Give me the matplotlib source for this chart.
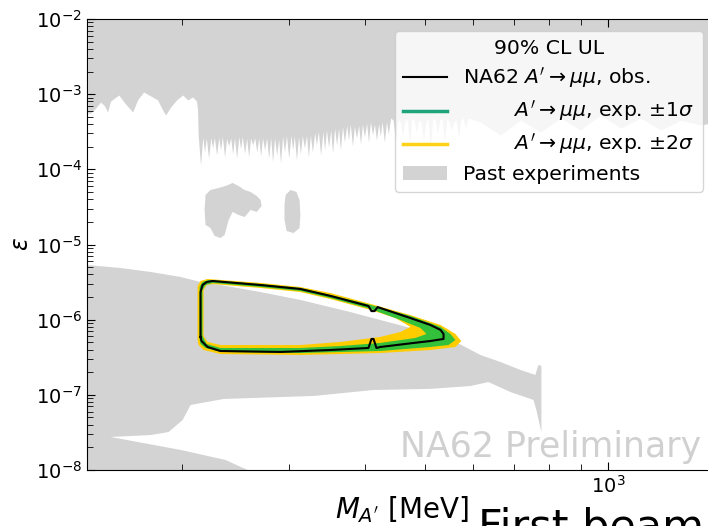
import numpy as np
import matplotlib
matplotlib.use("Agg")
import matplotlib.pyplot as plt
from matplotlib.lines import Line2D
from matplotlib.patches import Patch, PathPatch
from matplotlib.path import Path
from matplotlib.ticker import NullFormatter

# ---- past experiments, upper band: wavy edge at low mass (filled up to 1e-2)
wave_m = [140.4, 142.0, 144.6, 147.4, 149.6, 151.3, 153.0, 155.4, 157.8, 161.4,
          166.3, 169.4, 173.3, 178.0, 182.7, 186.2, 188.3, 191.9, 196.3, 200.8,
          204.6, 208.5, 211.6, 212.4]
wave_eps = [5.6e-4, 5.6e-4, 6.54e-4, 7.87e-4, 6.97e-4, 5.8e-4, 8.1e-4, 8.9e-4, 9.75e-4, 7.63e-4,
            5.8e-4, 8.4e-4, 1.07e-3, 9.46e-4, 8.4e-4, 6.15e-4, 5.28e-4, 6.75e-4, 8.4e-4, 9.75e-4,
            8.4e-4, 9.17e-4, 8.1e-4, 6.15e-4]
# needle-like edge above ~213 MeV: tip position, tip depth, level between needles
needle_m = [214.8, 218.1, 221.4, 224.8, 228.2, 231.6, 235.2, 238.8, 242.4, 246.1,
            249.8, 253.6, 257.5, 261.4, 265.5, 269.4, 273.5, 277.7, 281.9, 286.2,
            290.4, 294.8, 299.5, 304.0, 308.4, 313.0, 317.8, 322.6, 327.5, 332.5,
            337.8, 342.9, 348.1, 353.4, 358.8, 364.0, 369.6, 375.2, 380.9, 386.7,
            392.6, 398.5, 404.6, 410.9, 417.0, 423.0, 429.5, 436.0, 447.9, 460.0,
            472.2, 484.8, 497.8, 511.0, 524.8, 538.8, 553.2, 568.0, 583.2]
needle_tip = [1.14e-4, 1.70e-4, 1.41e-4, 1.93e-4, 1.55e-4, 1.81e-4, 1.46e-4, 2.05e-4, 1.60e-4, 1.41e-4,
              1.87e-4, 1.64e-4, 1.46e-4, 2.11e-4, 1.70e-4, 1.50e-4, 1.81e-4, 1.41e-4, 1.25e-4, 1.55e-4,
              1.22e-4, 1.70e-4, 1.41e-4, 1.81e-4, 1.33e-4, 1.60e-4, 1.93e-4, 1.46e-4, 1.70e-4, 2.11e-4,
              1.55e-4, 1.81e-4, 1.99e-4, 1.64e-4, 2.11e-4, 1.81e-4, 2.31e-4, 2.45e-4, 2.05e-4, 2.62e-4,
              2.17e-4, 2.70e-4, 2.31e-4, 2.86e-4, 2.45e-4, 2.78e-4, 2.31e-4, 2.96e-4, 2.45e-4, 2.86e-4,
              2.11e-4, 3.14e-4, 2.45e-4, 1.93e-4, 3.05e-4, 2.31e-4, 3.34e-4, 2.62e-4, 3.55e-4]
needle_base = [2.86e-4, 3.05e-4, 2.70e-4, 2.96e-4, 2.78e-4, 3.05e-4, 2.86e-4, 2.70e-4, 2.96e-4, 2.86e-4,
               3.14e-4, 2.78e-4, 2.96e-4, 2.70e-4, 2.86e-4, 3.05e-4, 2.78e-4, 2.96e-4, 3.14e-4, 2.86e-4,
               3.05e-4, 3.14e-4, 2.96e-4, 3.34e-4, 3.05e-4, 3.14e-4, 2.96e-4, 3.34e-4, 3.14e-4, 3.55e-4,
               3.34e-4, 3.89e-4, 3.55e-4, 4.01e-4, 3.89e-4, 4.26e-4, 4.01e-4, 4.53e-4, 4.26e-4, 4.01e-4,
               4.53e-4, 4.26e-4, 4.82e-4, 4.53e-4, 4.26e-4, 4.82e-4, 4.53e-4, 4.82e-4, 4.53e-4, 4.26e-4,
               4.82e-4, 4.53e-4, 4.26e-4, 4.82e-4, 4.53e-4, 4.82e-4, 4.26e-4, 4.53e-4, 4.82e-4]
# smoother edge further right (mostly behind the legend)
right_m = [617.0, 665.0, 718.0, 774.0, 835.0, 900.0, 971.0, 1047.0, 1129.0, 1218.0,
           1313.0, 1414.0, 1500.0]
right_eps = [4.26e-4, 2.86e-4, 4.53e-4, 3.14e-4, 4.8e-4, 3.34e-4, 5.28e-4, 3.55e-4, 4.8e-4, 3.34e-4,
             4.5e-4, 3.9e-4, 4.2e-4]

# ---- two small islands around 1e-5 .. 1e-4
blob1_m = [218.9, 223.0, 229.9, 236.0, 242.4, 248.0, 253.6, 259.4, 265.5, 269.4,
           270.4, 265.5, 259.4, 253.6, 248.0, 242.4, 238.8, 235.2, 231.6, 226.5,
           223.0, 218.9, 218.1]
blob1_eps = [4.56e-5, 5.31e-5, 5.65e-5, 6.0e-5, 6.58e-5, 6.0e-5, 5.31e-5, 5.0e-5, 4.42e-5, 3.91e-5,
             3.25e-5, 2.71e-5, 2.88e-5, 2.32e-5, 2.47e-5, 2.71e-5, 2.12e-5, 1.34e-5, 1.22e-5, 1.3e-5,
             1.66e-5, 1.82e-5, 2.88e-5]
blob2_m = [296.0, 301.7, 308.4, 312.0, 313.0, 312.0, 305.0, 297.2, 294.8, 294.8]
blob2_eps = [4.56e-5, 5.31e-5, 5.0e-5, 3.91e-5, 2.47e-5, 1.66e-5, 1.42e-5, 1.51e-5, 2.12e-5, 3.36e-5]

# ---- lower excluded region (beam dumps)
low_m = [140.4, 159.0, 178.0, 199.2, 214.8, 231.6, 269.4, 313.0, 378.2, 474.0,
         511.0, 566.0, 617.0, 665.0, 718.0, 759.0, 768.0, 776.6, 776.6, 762.0,
         753.8, 691.0, 636.0, 594.0, 511.0, 412.4, 328.9, 234.3, 206.9, 200.8,
         190.4, 178.0, 153.0, 199.2, 236.0, 256.4, 140.4]
low_eps = [5.33e-6, 4.86e-6, 4.31e-6, 3.7e-6, 3.17e-6, 2.89e-6, 2.33e-6, 1.83e-6, 1.26e-6, 7.75e-7,
           6.25e-7, 4.9e-7, 3.39e-7, 2.74e-7, 2.14e-7, 1.84e-7, 2.5e-7, 2.42e-7, 3.2e-8, 6.3e-8,
           8.55e-8, 1.09e-7, 1.48e-7, 1.31e-7, 1.2e-7, 1.16e-7, 9.66e-8, 8.81e-8, 7.33e-8, 4.63e-8,
           3.2e-8, 2.92e-8, 2.75e-8, 1.85e-8, 1.36e-8, 1.0e-8, 1.0e-8]

# ---- NA62 observed limit contour
obs_m = [214.8, 214.8, 216.4, 219.8, 224.8, 269.4, 313.0, 350.6, 404.6, 409.2,
         414.0, 418.8, 474.0, 511.0, 531.0, 537.0, 537.0, 511.0, 479.6, 423.0,
         417.0, 412.4, 409.2, 404.6, 350.6, 290.4, 231.6, 220.6, 215.6, 214.8]
obs_eps = [5.89e-7, 2.33e-6, 2.89e-6, 3.17e-6, 3.27e-6, 2.89e-6, 2.56e-6, 2.07e-6, 1.52e-6, 1.30e-6,
           1.30e-6, 1.47e-6, 1.05e-6, 8.5e-7, 7.3e-7, 6.45e-7, 5.54e-7, 5.2e-7, 4.9e-7, 4.33e-7,
           4.2e-7, 5.54e-7, 5.54e-7, 4.2e-7, 3.95e-7, 3.72e-7, 3.83e-7, 4.33e-7, 5.2e-7, 5.89e-7]

# ---- expected bands (outer / inner edges)
y2_out_m = [212.4, 212.4, 214.8, 220.6, 269.4, 313.0, 350.6, 407.8, 474.0, 531.0,
            561.6, 574.0, 561.6, 511.0, 423.0, 313.0, 231.6, 217.3, 213.2]
y2_out_eps = [5.37e-7, 2.8e-6, 3.27e-6, 3.48e-6, 3.08e-6, 2.72e-6, 2.26e-6, 1.62e-6, 1.15e-6, 8.5e-7,
              6.45e-7, 5.2e-7, 4.33e-7, 3.95e-7, 3.6e-7, 3.39e-7, 3.49e-7, 3.95e-7, 4.6e-7]
y2_in_m = [217.3, 217.3, 219.8, 224.8, 269.4, 313.0, 350.6, 407.8, 447.9, 474.0,
           456.6, 423.0, 364.0, 313.0, 231.6, 220.6]
y2_in_eps = [6.07e-7, 2.48e-6, 2.89e-6, 2.98e-6, 2.64e-6, 2.33e-6, 1.88e-6, 1.35e-6, 1.05e-6, 8.0e-7,
             6.86e-7, 5.89e-7, 5.05e-7, 4.6e-7, 4.6e-7, 5.05e-7]
g1_out_m = [214.0, 214.0, 216.4, 221.4, 269.4, 313.0, 350.6, 407.8, 474.0, 531.0,
            551.0, 561.6, 547.0, 511.0, 423.0, 313.0, 231.6, 218.9, 214.8]
g1_out_eps = [5.54e-7, 2.72e-6, 3.17e-6, 3.37e-6, 2.98e-6, 2.64e-6, 2.13e-6, 1.57e-6, 1.12e-6, 8.0e-7,
              6.45e-7, 5.37e-7, 4.6e-7, 4.33e-7, 3.83e-7, 3.6e-7, 3.72e-7, 4.2e-7, 4.75e-7]
g1_in_m = [216.4, 216.4, 218.9, 224.8, 269.4, 313.0, 350.6, 407.8, 456.6, 492.3,
           503.6, 483.0, 423.0, 364.0, 313.0, 231.6, 219.8]
g1_in_eps = [6.07e-7, 2.48e-6, 2.89e-6, 3.08e-6, 2.72e-6, 2.41e-6, 1.94e-6, 1.39e-6, 9.9e-7, 7.75e-7,
             6.45e-7, 5.71e-7, 4.9e-7, 4.46e-7, 4.2e-7, 4.2e-7, 4.75e-7]

GRAY = "#d3d3d3"
YELLOW = "#ffcc00"
GREEN = "#33c03a"
NEEDLE_HALF = 1.009   # half width of a needle, as a mass ratio


def ring(ax, out_x, out_y, in_x, in_y, color, z):
    # annulus: outer edge, then inner edge reversed
    ox, oy = list(out_x), list(out_y)
    ix, iy = list(in_x)[::-1], list(in_y)[::-1]
    verts = list(zip(ox, oy)) + [(ox[0], oy[0])] + list(zip(ix, iy)) + [(ix[0], iy[0])]
    codes = ([Path.MOVETO] + [Path.LINETO] * (len(ox) - 1) + [Path.CLOSEPOLY]
             + [Path.MOVETO] + [Path.LINETO] * (len(ix) - 1) + [Path.CLOSEPOLY])
    ax.add_patch(PathPatch(Path(verts, codes), facecolor=color, edgecolor="none", zorder=z))


# build the upper band edge
edge_m = list(wave_m)
edge_eps = list(wave_eps)
for m, tip, base in zip(needle_m, needle_tip, needle_base):
    edge_m += [m / NEEDLE_HALF, m, m * NEEDLE_HALF]
    edge_eps += [base, tip, base]
edge_m += right_m
edge_eps += right_eps

fig = plt.figure(figsize=(7.08, 5.26), dpi=100)
ax = fig.add_axes([87 / 708, 56 / 526, 629 / 708, 451 / 526])
ax.set_xscale("log")
ax.set_yscale("log")

ax.fill_between(edge_m, edge_eps, 1e-2, color=GRAY, lw=0, zorder=1)
ax.fill(blob1_m, blob1_eps, color=GRAY, lw=0, zorder=1)
ax.fill(blob2_m, blob2_eps, color=GRAY, lw=0, zorder=1)
ax.fill(low_m, low_eps, color=GRAY, lw=0, zorder=1)

ring(ax, y2_out_m, y2_out_eps, y2_in_m, y2_in_eps, YELLOW, 2)
ring(ax, g1_out_m, g1_out_eps, g1_in_m, g1_in_eps, GREEN, 3)
ax.plot(obs_m, obs_eps, color="black", lw=1.5, zorder=4)

ax.set_xlim(140, 1500)
ax.set_ylim(1e-8, 1e-2)
ax.xaxis.set_minor_formatter(NullFormatter())
ax.tick_params(which="both", direction="in", top=True, right=True, labelsize=14)
ax.tick_params(which="major", length=6)
ax.tick_params(which="minor", length=4)

ax.set_xlabel(r"$M_{A'}$ [MeV]", fontsize=20, labelpad=-2)
ax.set_ylabel(r"$\varepsilon$", fontsize=17, labelpad=2)

ax.text(0.4976, 0.029, "NA62 Preliminary", transform=ax.transAxes,
        fontsize=25, color="#d0d0d0", va="baseline", ha="left", zorder=5)

handles = [
    Line2D([], [], color="black", lw=1.5),
    Line2D([], [], color="#1fa37a", lw=2.5),
    Line2D([], [], color="#ffd21a", lw=2.5),
    Patch(facecolor=GRAY, edgecolor="none"),
]
labels = [
    r"NA62 $A'\rightarrow\mu\mu$, obs.",
    r"        $A'\rightarrow\mu\mu$, exp. $\pm1\sigma$",
    r"        $A'\rightarrow\mu\mu$, exp. $\pm2\sigma$",
    "Past experiments",
]
leg = ax.legend(handles, labels, title="90% CL UL", fontsize=14.7, title_fontsize=14.7,
                loc="upper right", bbox_to_anchor=(703 / 708, 1 - 31 / 526),
                bbox_transform=fig.transFigure, borderaxespad=0, framealpha=0.8,
                labelspacing=0.38, handlelength=2.15)
leg.set_zorder(10)

fig.text(478 / 708, -14 / 526, "First beam", fontsize=31, color="black", va="baseline")

fig.savefig("out.png", dpi=100)
